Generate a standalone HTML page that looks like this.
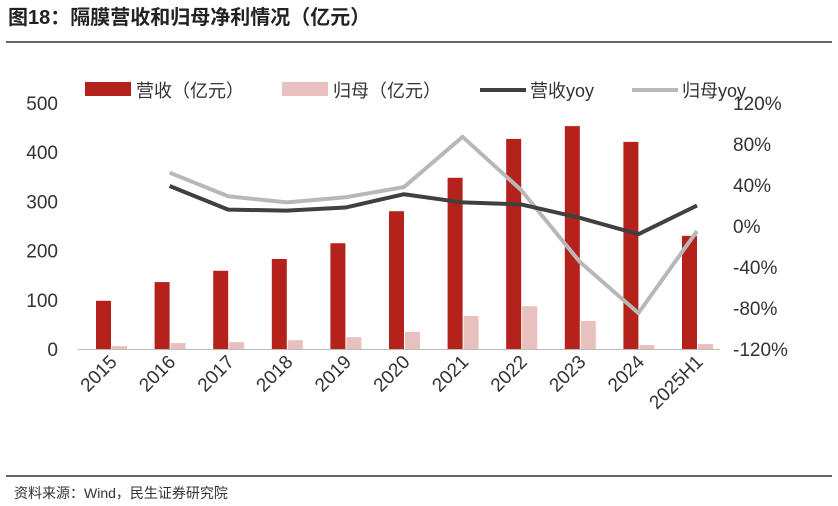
<!DOCTYPE html>
<html><head><meta charset="utf-8"><style>
body{margin:0;background:#fff;width:838px;height:506px;overflow:hidden;font-family:"Liberation Sans","Noto Sans CJK SC",sans-serif;}
</style></head><body>
<svg width="838" height="506" style="position:absolute;left:0;top:0">
<text x="8" y="24" font-size="20" font-weight="bold" fill="#222" font-family="Liberation Sans, Noto Sans CJK SC, sans-serif">图18：隔膜营收和归母净利情况（亿元）</text>
<line x1="6" y1="42" x2="832" y2="42" stroke="#333" stroke-width="1.5"/>
<line x1="6" y1="476" x2="832" y2="476" stroke="#333" stroke-width="1.5"/>
<text x="14" y="498" font-size="14" fill="#333" font-family="Liberation Sans, Noto Sans CJK SC, sans-serif">资料来源：Wind，民生证券研究院</text>
<g id="legend" font-size="18" fill="#333" font-family="Liberation Sans, Noto Sans CJK SC, sans-serif">
<g><rect x="85" y="82" width="46" height="14" fill="#b5211b"/><text x="136" y="97">营收（亿元）</text></g>
<g><rect x="282" y="82" width="46" height="14" fill="#e8c1bf"/><text x="333" y="97">归母（亿元）</text></g>
<g><line x1="480" y1="90" x2="526" y2="90" stroke="#404040" stroke-width="4"/><text x="530" y="97">营收yoy</text></g>
<g><line x1="632" y1="90" x2="678" y2="90" stroke="#b8b8b8" stroke-width="4"/><text x="682" y="97">归母yoy</text></g>
</g>
<g id="plot"></g>
</svg>
<script>
const categories=["2015","2016","2017","2018","2019","2020","2021","2022","2023","2024","2025H1"];
const revenue=[98,136,159,183,215,280,348,427,453,421,230];
const profit=[6,12,14,18,24,35,67,87,57,8,10];
const revenueYoy=[null,39,16,15,18,31,23,21,8,-8,20];
const profitYoy=[null,52,29,23,28,38,87,35,-35,-85,-5];
const leftTicks=[0,100,200,300,400,500];
const rightTicks=[-120,-80,-40,0,40,80,120];
const NS="http://www.w3.org/2000/svg";
const g=document.getElementById('plot');
const yL=v=>349-v*246/500;
const yR=v=>226-v*246/240;
const xC=i=>111+i*58.6;
function mk(t,a){const e=document.createElementNS(NS,t);for(const k in a)e.setAttribute(k,a[k]);g.appendChild(e);return e;}
leftTicks.forEach(v=>{const t=mk('text',{x:58,y:yL(v)+7,'font-size':19,fill:'#333','text-anchor':'end'});t.textContent=v;

});
rightTicks.forEach(v=>{const t=mk('text',{x:733,y:yR(v)+7,'font-size':19,fill:'#333'});t.textContent=v+'%';

});
const ax=mk('line',{x1:78,y1:349.5,x2:720,y2:349.5,stroke:'#bbb','stroke-width':1});


categories.forEach((c,i)=>{
 const r=mk('rect',{x:xC(i)-15,y:yL(revenue[i]),width:15,height:349-yL(revenue[i]),fill:'#b5211b'});
 
 
 const p=mk('rect',{x:xC(i)+1,y:yL(profit[i]),width:15,height:349-yL(profit[i]),fill:'#e8c1bf'});
 
 
 const t=mk('text',{x:0,y:0,'font-size':19,fill:'#333','text-anchor':'end',transform:`translate(${xC(i)+7},${363}) rotate(-45)`});
 t.textContent=c;
 
 
});
function line(arr,col,name){let d='';arr.forEach((v,i)=>{if(v===null)return;d+=(d?'L':'M')+xC(i)+','+yR(v);});
 const l=mk('path',{d:d,fill:'none',stroke:col,'stroke-width':4,'stroke-linejoin':'round'});
 
 }
line(profitYoy,'#b8b8b8','line-profit-yoy');
line(revenueYoy,'#404040','line-revenue-yoy');
</script>
</body></html>
